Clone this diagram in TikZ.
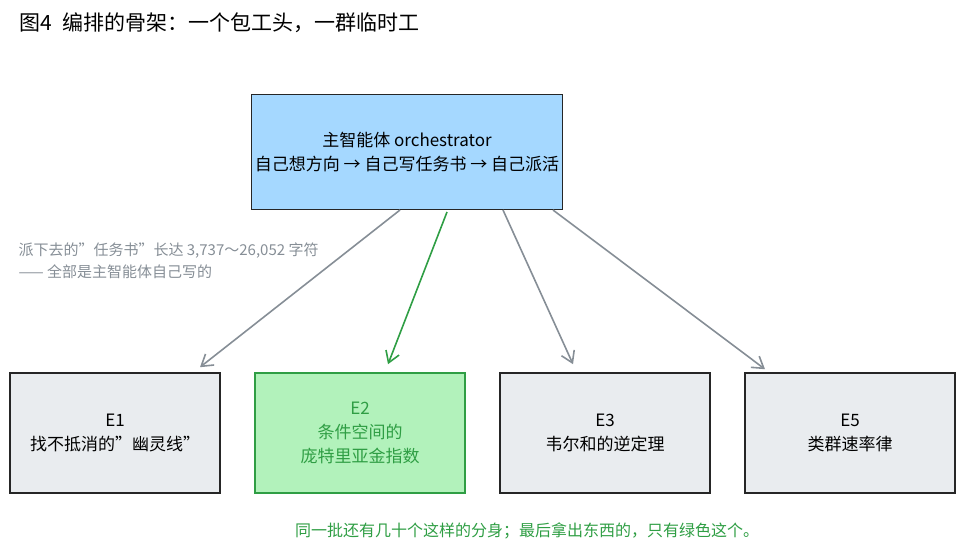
\documentclass[tikz,border=0pt]{standalone}
\usepackage{fontspec}
\setmainfont{Noto Sans CJK SC}
\usetikzlibrary{arrows.meta,positioning}
\definecolor{boxblue}{HTML}{A5D8FF}
\definecolor{boxgray}{HTML}{E9ECEF}
\definecolor{boxgreen}{HTML}{B2F2BB}
\definecolor{linegreen}{HTML}{2F9E44}
\definecolor{linegray}{HTML}{868E96}
\definecolor{textgray}{HTML}{868E96}
\tikzset{
  box/.style = {draw=black!85, line width=1.6pt, minimum width=210pt, minimum height=120pt, align=center, font=\fontsize{17}{24}\selectfont},
  link/.style = {-{Straight Barb[length=11pt,width=14pt]}, line width=1.6pt, linegray},
}
\begin{document}
\begin{tikzpicture}[x = 1pt, y = -1pt]
\useasboundingbox (0,0) rectangle (965,555);
\node[anchor = west, font = \fontsize{21}{24}\selectfont] (title) at (16,23) {图4\enspace 编排的骨架：一个包工头，一群临时工};
\node[box, fill = boxblue, minimum width = 305pt, minimum height = 115pt] (orch) at (407,152) {主智能体 orchestrator\\自己想方向 → 自己写任务书 → 自己派活};
\node[box, fill = boxgray] (e1) at (115,433) {E1\\找不抵消的”幽灵线”};
\node[box, fill = boxgreen, draw = linegreen, text = linegreen] (e2) at (360,433) {E2\\条件空间的\\庞特里亚金指数};
\node[box, fill = boxgray] (e3) at (605,433) {E3\\韦尔和的逆定理};
\node[box, fill = boxgray] (e5) at (850,433) {E5\\类群速率律};
\node[anchor = north west, align = left, text = textgray, font = \fontsize{15}{22}\selectfont] (note) at (15,239) {派下去的”任务书”长达 3,737～26,052 字符\\—— 全部是主智能体自己写的};
\node[text = linegreen, font = \fontsize{16}{18}\selectfont] (foot) at (527,531) {同一批还有几十个这样的分身；最后拿出东西的，只有绿色这个。};
\coordinate (o1) at (400,210);
\coordinate (o2) at (447,212);
\coordinate (o3) at (503,210);
\coordinate (o5) at (553,210);
\draw[link] (o1) -- ([xshift=85pt,yshift=5pt]e1.north);
\draw[link, linegreen] (o2) -- ([xshift=28pt,yshift=8pt]e2.north);
\draw[link] (o3) -- ([xshift=-32pt,yshift=8pt]e3.north);
\draw[link] (o5) -- ([xshift=-85pt,yshift=3pt]e5.north);
\end{tikzpicture}
\end{document}
